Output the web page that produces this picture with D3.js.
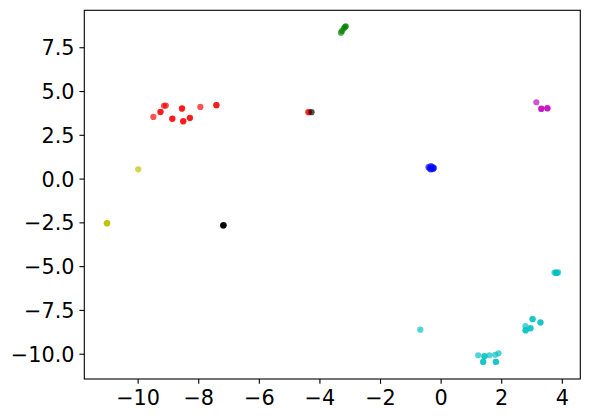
<!DOCTYPE html>
<html>
<head>
<meta charset="utf-8">
<script src="https://cdn.jsdelivr.net/npm/d3@7"></script>
<style>
  body { margin: 0; background: #fff; }
  text { font-family: "DejaVu Sans", sans-serif; font-size: 20.8px; fill: #000; }
</style>
</head>
<body>
<svg id="chart" width="589" height="419"></svg>
<script>
// scatter points, one array per cluster colour; repeated points = overlapping markers
const redPts = [
  [-9.13, 4.16], [-9.07, 4.17], [-9.25, 3.80], [-9.24, 3.81], [-9.48, 3.52],
  [-8.86, 3.41], [-8.85, 3.42], [-8.54, 3.99], [-8.53, 4.01], [-8.50, 3.27],
  [-8.49, 3.28], [-8.28, 3.46], [-8.27, 3.47], [-7.93, 4.09], [-7.40, 4.19],
  [-7.40, 4.19], [-4.37, 3.79], [-4.34, 3.80]
];
const blackPts = [[-4.26, 3.79], [-7.17, -2.67], [-7.16, -2.66], [-7.18, -2.68]];
const yellowPts = [[-9.98, 0.53], [-11.02, -2.55], [-11.00, -2.54], [-11.01, -2.56]];
const greenPts = [[-3.29, 8.33], [-3.25, 8.43], [-3.19, 8.58], [-3.15, 8.67], [-3.13, 8.70]];
const bluePts = [
  [-0.40, 0.65], [-0.32, 0.71], [-0.26, 0.66], [-0.25, 0.55], [-0.32, 0.52],
  [-0.22, 0.60], [-0.36, 0.58]
];
const magentaPts = [[3.16, 4.36], [3.32, 3.98], [3.33, 3.99], [3.52, 4.02], [3.53, 4.01]];
const cyanPts = [
  [3.76, -5.37], [3.80, -5.35], [3.84, -5.38], [3.88, -5.36], [3.82, -5.40],
  [-0.67, -8.63], [3.03, -8.03], [3.04, -8.02], [3.29, -8.21], [3.30, -8.22],
  [2.80, -8.43], [2.96, -8.55], [2.97, -8.54], [2.80, -8.66], [2.81, -8.67],
  [1.24, -10.09], [1.44, -10.15], [1.45, -10.14], [1.61, -10.09], [1.80, -10.06],
  [1.91, -9.98], [1.40, -10.47], [1.41, -10.46], [1.82, -10.47], [1.83, -10.46]
];

const xTicks = [-10, -8, -6, -4, -2, 0, 2, 4];
const yTicks = [-10, -7.5, -5, -2.5, 0, 2.5, 5, 7.5];

// matplotlib single-letter colours
const clusters = [
  {pts: redPts, color: "#ff0000"},
  {pts: yellowPts, color: "#bfbf00"},
  {pts: greenPts, color: "#008000"},
  {pts: bluePts, color: "#0000ff"},
  {pts: magentaPts, color: "#bf00bf"},
  {pts: cyanPts, color: "#00bfbf"},
  {pts: blackPts, color: "#000000"}
];

const box = {left: 84.3, right: 580.3, top: 10.3, bottom: 379};
const tickLen = 4.86, pad = 4.86;

const x = d3.scaleLinear().domain([-11.76, 4.61]).range([box.left, box.right]);
const y = d3.scaleLinear().domain([-11.445, 9.61]).range([box.bottom, box.top]);

const svg = d3.select("#chart");

// points
const plot = svg.append("g");
clusters.forEach(function(c) {
  plot.selectAll(null)
    .data(c.pts).enter()
    .append("circle")
    .attr("cx", (d) => x(d[0]))
    .attr("cy", (d) => y(d[1]))
    .attr("r", 3.1)
    .attr("fill", c.color)
    .attr("fill-opacity", 0.68);
});

// x axis
const xAxis = d3.axisBottom(x)
  .tickValues(xTicks)
  .tickFormat(d3.format("d"))
  .tickSize(tickLen)
  .tickPadding(pad);
const gx = svg.append("g")
  .attr("transform", "translate(0," + box.bottom + ")")
  .call(xAxis);
gx.select(".domain").remove();
gx.selectAll("line").attr("stroke", "#000").attr("stroke-width", 1.1);
gx.selectAll("text").attr("dy", null).attr("y", 26);

// y axis
const yAxis = d3.axisLeft(y)
  .tickValues(yTicks)
  .tickFormat(d3.format(".1f"))
  .tickSize(tickLen)
  .tickPadding(pad);
const gy = svg.append("g")
  .attr("transform", "translate(" + box.left + ",0)")
  .call(yAxis);
gy.select(".domain").remove();
gy.selectAll("line").attr("stroke", "#000").attr("stroke-width", 1.1);
gy.selectAll("text").attr("dy", "0.36em");

svg.selectAll(".tick text")
  .attr("font-family", "DejaVu Sans")
  .attr("font-size", 20.8)
  .attr("fill", "#000");

// frame
svg.append("rect")
  .attr("x", box.left)
  .attr("y", box.top)
  .attr("width", box.right - box.left)
  .attr("height", box.bottom - box.top)
  .attr("fill", "none")
  .attr("stroke", "#000")
  .attr("stroke-width", 1.1);
</script>
</body>
</html>
